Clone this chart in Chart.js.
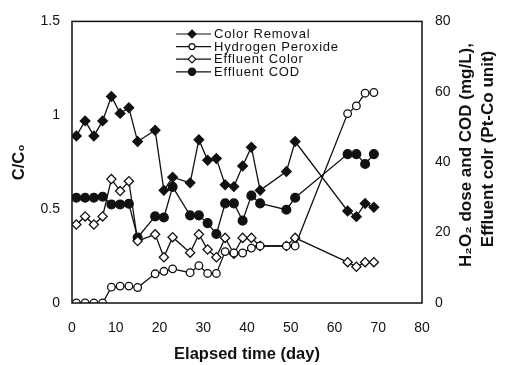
<!DOCTYPE html>
<html>
<head>
<meta charset="utf-8">
<script src="https://cdn.jsdelivr.net/npm/chart.js@4.4.1/dist/chart.umd.min.js"></script>
<style>
  html, body { margin: 0; padding: 0; background: #fff; }
  canvas { display: block; }
</style>
</head>
<body>
<canvas id="elapsed-chart" width="509" height="365"></canvas>
<script>
const elapsedCanvas = document.getElementById('elapsed-chart');

// Chart Data
const days = [1, 3, 5, 7, 9, 11, 13, 15, 19, 21, 23, 27, 29, 31, 33, 35, 37, 39, 41, 43, 49, 51, 63, 65, 67, 69];
const colorRemoval = [0.89, 0.97, 0.89, 0.97, 1.10, 1.01, 1.04, 0.86, 0.92, 0.60, 0.67, 0.64, 0.87, 0.76, 0.77, 0.63, 0.62, 0.73, 0.83, 0.60, 0.70, 0.86, 0.49, 0.46, 0.53, 0.51];
const hydrogenPeroxide = [0, 0, 0, 0, 4.5, 4.8, 4.8, 4.4, 8.3, 9.0, 9.7, 8.6, 10.6, 8.4, 8.4, 14.6, 14.2, 14.2, 15.6, 16.2, 16.2, 16.2, 53.8, 56.0, 59.6, 59.8];
const effluentColor = [22.3, 24.6, 22.3, 24.6, 35.2, 31.8, 34.6, 17.6, 19.5, 13.0, 18.7, 14.3, 19.5, 15.2, 13.0, 18.5, 14.0, 18.5, 18.5, 16.2, 16.2, 18.5, 11.6, 10.3, 11.6, 11.6];
const effluentCOD = [29.9, 29.9, 29.9, 30.2, 28.0, 28.0, 28.2, 18.6, 24.6, 24.3, 33.0, 24.9, 24.9, 22.7, 19.6, 28.3, 28.3, 23.4, 30.5, 28.3, 26.5, 29.9, 42.3, 42.3, 39.5, 42.3];

const seriesLabels = ['Color Removal', 'Hydrogen Peroxide', 'Effluent Color', 'Effluent COD'];
const xTitle = 'Elapsed time (day)';
const leftTitle = 'C/C\u2080';
const rightTitle = ['H\u2082O\u2082 dose and COD (mg/L),', 'Effluent colr (Pt-Co unit)'];

const INK = '#111';
const FONT = '"Liberation Sans", Arial, sans-serif';

function pairs(values) {
    return days.map((d, i) => ({ x: d, y: values[i] }));
}

// marker looks, in legend order
const markers = [
    { style: 'rectRot', fill: INK, radius: 4.8 },
    { style: 'circle', fill: '#fff', radius: 3.8 },
    { style: 'rectRot', fill: '#fff', radius: 4.6 },
    { style: 'circle', fill: INK, radius: 4.4 }
];

function makeSet(i, values, axis) {
    return {
        label: seriesLabels[i],
        data: pairs(values),
        yAxisID: axis,
        borderColor: INK,
        borderWidth: 1.3,
        pointStyle: markers[i].style,
        pointRadius: markers[i].radius,
        pointBackgroundColor: markers[i].fill,
        pointBorderColor: INK,
        pointBorderWidth: 1.3,
        tension: 0,
        fill: false
    };
}

function drawMarker(ctx, m, x, y, r) {
    ctx.beginPath();
    if (m.style === 'circle') {
        ctx.arc(x, y, r, 0, Math.PI * 2);
    } else {
        ctx.moveTo(x, y - r);
        ctx.lineTo(x + r, y);
        ctx.lineTo(x, y + r);
        ctx.lineTo(x - r, y);
        ctx.closePath();
    }
    ctx.fillStyle = m.fill;
    ctx.fill();
    ctx.stroke();
}

// frame, right title and the legend inside the plot
const decorPlugin = {
    id: 'decor',
    afterDraw(chart) {
        const { ctx, chartArea: a } = chart;
        ctx.save();
        ctx.strokeStyle = INK;
        ctx.lineWidth = 1.5;
        ctx.strokeRect(a.left, a.top, a.right - a.left, a.bottom - a.top);

        // legend
        ctx.lineWidth = 1.2;
        ctx.font = '13px ' + FONT;
        ctx.textAlign = 'left';
        ctx.textBaseline = 'middle';
        if ('letterSpacing' in ctx) ctx.letterSpacing = '0.8px';
        seriesLabels.forEach((label, i) => {
            const y = 34 + i * 12.6;
            ctx.beginPath();
            ctx.moveTo(176, y);
            ctx.lineTo(211, y);
            ctx.stroke();
            drawMarker(ctx, markers[i], 192, y, markers[i].radius - 0.8);
            ctx.fillStyle = INK;
            ctx.fillText(label, 214, y + 0.5);
        });
        if ('letterSpacing' in ctx) ctx.letterSpacing = '0px';

        // right axis title, read bottom to top
        ctx.font = 'bold 17px ' + FONT;
        ctx.fillStyle = INK;
        ctx.textAlign = 'center';
        ctx.translate(466, 155);
        ctx.rotate(-Math.PI / 2);
        ctx.fillText(rightTitle[0], 0, 0);
        ctx.fillText(rightTitle[1], 6, 22);
        ctx.restore();
    }
};

const elapsedData = {
    datasets: [
        makeSet(0, colorRemoval, 'y'),
        makeSet(1, hydrogenPeroxide, 'y1'),
        makeSet(2, effluentColor, 'y1'),
        makeSet(3, effluentCOD, 'y1')
    ]
};

const tickFont = { family: FONT, size: 14 };
const titleFont = { family: FONT, size: 16.5, weight: 'bold' };

const elapsedOptions = {
    responsive: false,
    devicePixelRatio: 1,
    animation: false,
    layout: { padding: { top: 15, left: 0, right: 0, bottom: 0 } },
    scales: {
        x: {
            type: 'linear',
            min: 0,
            max: 80,
            ticks: { stepSize: 10, color: INK, font: tickFont, padding: 17 },
            grid: { display: false, drawTicks: false },
            border: { display: false },
            title: { display: true, text: xTitle, color: INK, font: titleFont, padding: { top: 0, bottom: 1 } },
            afterFit(scale) { scale.height = 62; }
        },
        y: {
            position: 'left',
            min: 0,
            max: 1.5,
            ticks: { stepSize: 0.5, color: INK, font: tickFont, padding: 12, callback: v => String(v) },
            grid: { display: false, drawTicks: false },
            border: { display: false },
            title: { display: true, text: leftTitle, color: INK, font: titleFont, padding: { top: 10, bottom: 0 } },
            afterFit(scale) { scale.width = 72; }
        },
        y1: {
            position: 'right',
            min: 0,
            max: 80,
            ticks: { stepSize: 20, color: INK, font: tickFont, padding: 13 },
            grid: { display: false, drawTicks: false },
            border: { display: false },
            afterFit(scale) { scale.width = 87; }
        }
    },
    plugins: {
        legend: { display: false },
        tooltip: { enabled: false }
    }
};

const elapsedChart = new Chart(elapsedCanvas, {
    type: 'line',
    data: elapsedData,
    options: elapsedOptions,
    plugins: [decorPlugin]
});
</script>
</body>
</html>
